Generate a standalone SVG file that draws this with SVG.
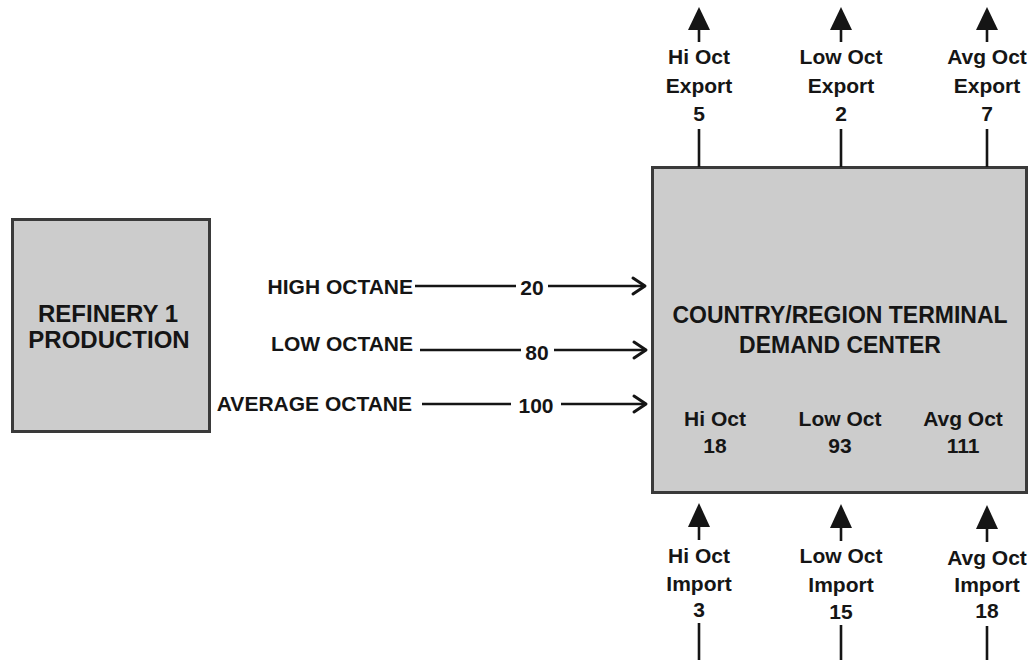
<svg xmlns="http://www.w3.org/2000/svg" width="1036" height="660" viewBox="0 0 1036 660">
  <defs>
    <style>
      .box { fill: #cccccc; stroke: #3a3a3a; stroke-width: 3; }
      .t { font-family: "Liberation Sans", Arial, sans-serif; font-weight: bold; fill: #151515; }
      .big { font-size: 24px; }
      .big2 { font-size: 23px; }
      .mid { font-size: 21px; }
      .ln { stroke: #151515; stroke-width: 2.6; fill: none; }
      .chev { stroke: #151515; stroke-width: 3; fill: none; stroke-linecap: round; stroke-linejoin: round; }
      .head { fill: #151515; }
    </style>
  </defs>
  <rect width="1036" height="660" fill="#ffffff"/>

  <!-- source node -->
  <g id="refinery">
    <rect class="box" x="12.5" y="219.5" width="197" height="212"/>
    <text class="t big" x="108" y="322" text-anchor="middle">REFINERY 1</text>
    <text class="t big" x="109" y="348" text-anchor="middle">PRODUCTION</text>
  </g>

  <!-- demand center node -->
  <g id="terminal">
    <rect class="box" x="652.5" y="167.5" width="374" height="325"/>
    <text class="t big2" x="840" y="323" text-anchor="middle">COUNTRY/REGION TERMINAL</text>
    <text class="t big2" x="840" y="353" text-anchor="middle">DEMAND CENTER</text>
    <text class="t mid" x="715" y="426" text-anchor="middle">Hi Oct</text>
    <text class="t mid" x="715" y="453" text-anchor="middle">18</text>
    <text class="t mid" x="840" y="426" text-anchor="middle">Low Oct</text>
    <text class="t mid" x="840" y="453" text-anchor="middle">93</text>
    <text class="t mid" x="963" y="426" text-anchor="middle">Avg Oct</text>
    <text class="t mid" x="963" y="453" text-anchor="middle">111</text>
  </g>

  <!-- flows -->
  <g id="connectors">
    <!-- production flows -->
    <text class="t mid" x="413" y="294" text-anchor="end">HIGH OCTANE</text>
    <line class="ln" x1="415" y1="286" x2="516" y2="286"/>
    <text class="t mid" x="532" y="295" text-anchor="middle">20</text>
    <line class="ln" x1="548" y1="286" x2="645" y2="286"/>
    <polyline class="chev" points="633,278 645,286 633,294"/>

    <text class="t mid" x="413" y="351" text-anchor="end">LOW OCTANE</text>
    <line class="ln" x1="420" y1="350" x2="521" y2="350"/>
    <text class="t mid" x="537" y="360" text-anchor="middle">80</text>
    <line class="ln" x1="554" y1="350" x2="646" y2="350"/>
    <polyline class="chev" points="634,342 646,350 634,358"/>

    <text class="t mid" x="412" y="411" text-anchor="end">AVERAGE OCTANE</text>
    <line class="ln" x1="422" y1="404" x2="511" y2="404"/>
    <text class="t mid" x="536" y="413" text-anchor="middle">100</text>
    <line class="ln" x1="561" y1="404" x2="646" y2="404"/>
    <polyline class="chev" points="634,396 646,404 634,412"/>

    <!-- exports -->
    <line class="ln" x1="699" y1="129" x2="699" y2="167"/>
    <line class="ln" x1="699" y1="28" x2="699" y2="42"/>
    <polygon class="head" points="699,7 688,30 710,30"/>
    <text class="t mid" x="699" y="64" text-anchor="middle">Hi Oct</text>
    <text class="t mid" x="699" y="93" text-anchor="middle">Export</text>
    <text class="t mid" x="699" y="121" text-anchor="middle">5</text>

    <line class="ln" x1="841" y1="129" x2="841" y2="167"/>
    <line class="ln" x1="841" y1="28" x2="841" y2="42"/>
    <polygon class="head" points="841,7 830,30 852,30"/>
    <text class="t mid" x="841" y="64" text-anchor="middle">Low Oct</text>
    <text class="t mid" x="841" y="93" text-anchor="middle">Export</text>
    <text class="t mid" x="841" y="121" text-anchor="middle">2</text>

    <line class="ln" x1="987" y1="129" x2="987" y2="167"/>
    <line class="ln" x1="987" y1="28" x2="987" y2="42"/>
    <polygon class="head" points="987,7 976,30 998,30"/>
    <text class="t mid" x="987" y="64" text-anchor="middle">Avg Oct</text>
    <text class="t mid" x="987" y="93" text-anchor="middle">Export</text>
    <text class="t mid" x="987" y="121" text-anchor="middle">7</text>

    <!-- imports -->
    <polygon class="head" points="699,503 688,527 710,527"/>
    <line class="ln" x1="699" y1="525" x2="699" y2="540"/>
    <text class="t mid" x="699" y="563" text-anchor="middle">Hi Oct</text>
    <text class="t mid" x="699" y="591" text-anchor="middle">Import</text>
    <text class="t mid" x="699" y="617" text-anchor="middle">3</text>
    <line class="ln" x1="699" y1="623" x2="699" y2="660"/>

    <polygon class="head" points="841,504 830,528 852,528"/>
    <line class="ln" x1="841" y1="526" x2="841" y2="541"/>
    <text class="t mid" x="841" y="563" text-anchor="middle">Low Oct</text>
    <text class="t mid" x="841" y="592" text-anchor="middle">Import</text>
    <text class="t mid" x="841" y="619" text-anchor="middle">15</text>
    <line class="ln" x1="841" y1="625" x2="841" y2="660"/>

    <polygon class="head" points="987,505 976,529 998,529"/>
    <line class="ln" x1="987" y1="527" x2="987" y2="542"/>
    <text class="t mid" x="987" y="565" text-anchor="middle">Avg Oct</text>
    <text class="t mid" x="987" y="592" text-anchor="middle">Import</text>
    <text class="t mid" x="987" y="618" text-anchor="middle">18</text>
    <line class="ln" x1="987" y1="626" x2="987" y2="660"/>
  </g>
</svg>
